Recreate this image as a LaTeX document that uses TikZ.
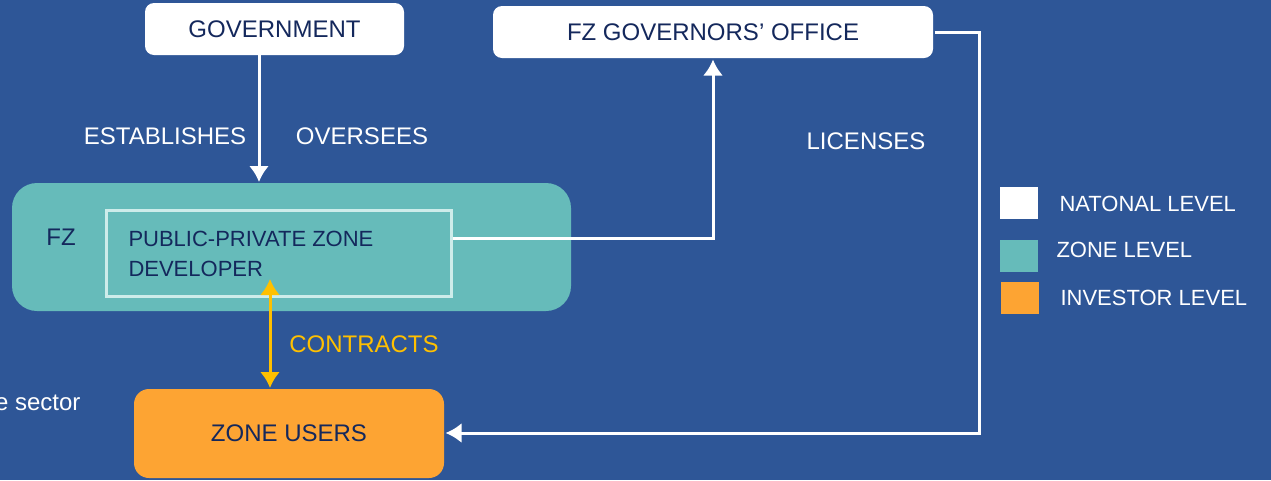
\documentclass[tikz,border=0pt]{standalone}
\usepackage{fontspec}
\setmainfont{Liberation Sans}
\usetikzlibrary{arrows.meta,positioning}

\definecolor{bgblue}{RGB}{46,86,151}
\definecolor{zteal}{RGB}{102,187,186}
\definecolor{zorange}{RGB}{253,164,51}
\definecolor{navy}{RGB}{20,40,92}
\definecolor{cyellow}{RGB}{255,192,0}
\definecolor{paleline}{RGB}{205,236,234}

\begin{document}
\begin{tikzpicture}[x=1pt,y=1pt,>={Latex[length=16pt,width=20pt]},line width=3pt,
  nat/.style={fill=white,rounded corners=9pt,text=navy,font=\fontsize{24}{28}\selectfont,inner sep=0pt},
  lbl/.style={text=white,font=\fontsize{24}{28}\selectfont,inner sep=0pt},
  swatch/.style={minimum width=38pt,minimum height=32pt,inner sep=0pt}]

\useasboundingbox[fill=bgblue] (0,0) rectangle (1271,-480);

\node [nat,minimum width=259pt,minimum height=52pt] (gov) at (274.5,-29) {GOVERNMENT};
\node [nat,minimum width=440pt,minimum height=52pt] (off) at (713,-32) {FZ GOVERNORS’ OFFICE};

\node [fill=zteal,rounded corners=25pt,minimum width=559pt,minimum height=128pt,inner sep=0pt] (fz) at (291.5,-247) {};
\node [draw=paleline,fill=zteal,minimum width=345pt,minimum height=86pt,inner sep=0pt] (dev) at (279,-253.5) {};
\node [text=navy,font=\fontsize{24}{28}\selectfont,inner sep=0pt] (fzl) at (61,-237) {FZ};
\node [text=navy,font=\fontsize{22}{30}\selectfont,align=left,inner sep=0pt,anchor=north west] (devl) at (127,-230) {PUBLIC-PRIVATE ZONE\\DEVELOPER};

\node [fill=zorange,rounded corners=15pt,minimum width=310pt,minimum height=89pt,inner sep=0pt,text=navy,font=\fontsize{24}{28}\selectfont] (users) at (289,-433.5) {ZONE USERS};

\coordinate (govb) at (259,-55);
\coordinate (fzt) at (259,-182);
\coordinate (c1) at (713,-238);
\coordinate (c2) at (979,-32);
\coordinate (c3) at (979,-433);
\coordinate (ct) at (270,-279);
\coordinate (cb) at (270,-388);

\draw [->,white] (govb) -- (fzt);
\draw [->,white] (dev.east |- c1) -- (c1) -- (c1 |- off.south);
\draw [->,white] (off.east |- c2) -- (c2) -- (c3) -- (users.east |- c3);
\draw [<->,cyellow] (ct) -- (cb);

\node [lbl] (est) at (165,-136) {ESTABLISHES};
\node [lbl] (ovs) at (362,-136) {OVERSEES};
\node [lbl] (lic) at (866,-141) {LICENSES};
\node [lbl,text=cyellow] (con) at (364,-344) {CONTRACTS};
\node [lbl,anchor=east] (sec) at (82,-403) {e sector};

\node [swatch,fill=white] (k1) at (1019,-203) {};
\node [swatch,fill=zteal] (k2) at (1019,-255.5) {};
\node [swatch,fill=zorange] (k3) at (1020,-298) {};
\node [lbl,anchor=west,font=\fontsize{22}{26}\selectfont] (t1) at (1058,-204) {NATONAL LEVEL};
\node [lbl,anchor=west,font=\fontsize{22}{26}\selectfont] (t2) at (1055,-250) {ZONE LEVEL};
\node [lbl,anchor=west,font=\fontsize{22}{26}\selectfont] (t3) at (1059,-298) {INVESTOR LEVEL};

\end{tikzpicture}
\end{document}
